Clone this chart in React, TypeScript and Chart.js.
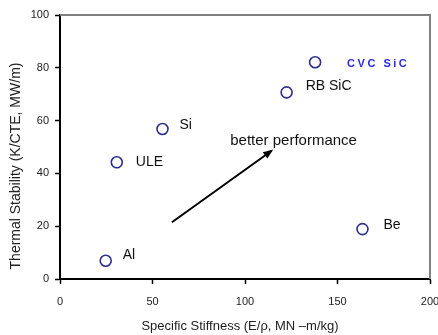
import React, { useEffect, useRef } from "react";
import { Chart, registerables } from "chart.js";

Chart.register(...registerables);

// ---- data ----
const materials = ["Al", "ULE", "Si", "RB SiC", "CVC SiC", "Be"];
const stiffness = [24.7, 30.7, 55.4, 122.5, 137.9, 163.5];
const stability = [6.9, 44.2, 56.8, 70.7, 82.1, 18.9];
const arrowX = [60.5, 114.4];
const arrowY = [21.5, 48.6];
const arrowText = "better performance";
const arrowTextAt = [92, 52.3];
const xTicks = [0, 50, 100, 150, 200];
const yTicks = [0, 20, 40, 60, 80, 100];
const xTitle = "Specific Stiffness (E/\u03c1, MN \u2013m/kg)";
const yTitle = "Thermal Stability (K/CTE, MW/m)";

// label placement (pixel offsets from the marker)
const LABEL_STYLE: Record<string, { dx: number; dy: number; color: string; font: string; spacing: string }> = {
  "Al": { dx: 17, dy: -6, color: "#111", font: "14px 'Liberation Sans', Arial", spacing: "0px" },
  "ULE": { dx: 19, dy: 0, color: "#111", font: "14px 'Liberation Sans', Arial", spacing: "0px" },
  "Si": { dx: 17, dy: -4, color: "#111", font: "14px 'Liberation Sans', Arial", spacing: "0px" },
  "RB SiC": { dx: 19, dy: -6, color: "#111", font: "14px 'Liberation Sans', Arial", spacing: "0px" },
  "CVC SiC": { dx: 32, dy: 2, color: "#2a2ae0", font: "bold 11px 'Liberation Sans', Arial", spacing: "2.5px" },
  "Be": { dx: 21, dy: -4, color: "#111", font: "14px 'Liberation Sans', Arial", spacing: "0px" },
};

const FONT = "'Liberation Sans', Arial, sans-serif";

const annotatePlugin = {
  id: "annotate",
  afterDatasetsDraw(chart: any) {
    const { ctx, chartArea, scales } = chart;
    const xs = scales.x;
    const ys = scales.y;
    ctx.save();
    // top and right frame in gray
    ctx.strokeStyle = "#808080";
    ctx.lineWidth = 2;
    ctx.beginPath();
    ctx.moveTo(chartArea.left, chartArea.top);
    ctx.lineTo(chartArea.right, chartArea.top);
    ctx.lineTo(chartArea.right, chartArea.bottom);
    ctx.stroke();

    // point labels
    ctx.textBaseline = "middle";
    ctx.textAlign = "left";
    materials.forEach((m, i) => {
      const st = LABEL_STYLE[m];
      const px = xs.getPixelForValue(stiffness[i]);
      const py = ys.getPixelForValue(stability[i]);
      ctx.font = st.font;
      ctx.fillStyle = st.color;
      (ctx as any).letterSpacing = st.spacing;
      ctx.fillText(m, px + st.dx, py + st.dy);
    });
    (ctx as any).letterSpacing = "0px";

    // arrow head
    const x0 = xs.getPixelForValue(arrowX[0]);
    const y0 = ys.getPixelForValue(arrowY[0]);
    const x1 = xs.getPixelForValue(arrowX[1]);
    const y1 = ys.getPixelForValue(arrowY[1]);
    const ang = Math.atan2(y1 - y0, x1 - x0);
    const len = 9;
    const w = 0.45;
    ctx.fillStyle = "#000";
    ctx.beginPath();
    ctx.moveTo(x1 + 2 * Math.cos(ang), y1 + 2 * Math.sin(ang));
    ctx.lineTo(x1 - len * Math.cos(ang - w), y1 - len * Math.sin(ang - w));
    ctx.lineTo(x1 - len * Math.cos(ang + w), y1 - len * Math.sin(ang + w));
    ctx.closePath();
    ctx.fill();

    // arrow text
    ctx.font = `15px ${FONT}`;
    ctx.fillStyle = "#111";
    ctx.fillText(arrowText, xs.getPixelForValue(arrowTextAt[0]), ys.getPixelForValue(arrowTextAt[1]));

    // axis titles
    ctx.font = `13px ${FONT}`;
    ctx.fillStyle = "#222";
    ctx.textAlign = "center";
    ctx.fillText(xTitle, (chartArea.left + chartArea.right) / 2 - 5, chartArea.bottom + 47);
    ctx.translate(16, (chartArea.top + chartArea.bottom) / 2 + 19);
    ctx.rotate(-Math.PI / 2);
    ctx.font = `14px ${FONT}`;
    ctx.fillText(yTitle, 0, 0);
    ctx.restore();
  },
};

export default function App() {
  const ref = useRef<HTMLCanvasElement>(null);
  useEffect(() => {
    if (!ref.current) return;
    const chart = new Chart(ref.current, {
      type: "scatter",
      data: {
        datasets: [
          {
            label: "materials",
            data: materials.map((_, i) => ({ x: stiffness[i], y: stability[i] })),
            pointStyle: "circle",
            pointRadius: 5.5,
            pointBorderWidth: 1.6,
            borderColor: "#2c2f8c",
            backgroundColor: "rgba(0,0,0,0)",
            pointBackgroundColor: "rgba(0,0,0,0)",
          },
          {
            type: "line",
            label: "arrow",
            data: arrowX.map((x, i) => ({ x, y: arrowY[i] })),
            showLine: true,
            borderColor: "#000",
            borderWidth: 2,
            pointRadius: 0,
            fill: false,
          } as any,
        ],
      },
      options: {
        animation: false,
        responsive: true,
        maintainAspectRatio: false,
        layout: { padding: { top: 15, right: 8, left: 0, bottom: 0 } },
        plugins: { legend: { display: false }, tooltip: { enabled: false }, title: { display: false } },
        scales: {
          x: {
            type: "linear",
            min: 0,
            max: 200,
            afterBuildTicks: (s: any) => {
              s.ticks = xTicks.map((v) => ({ value: v }));
            },
            afterFit: (s: any) => {
              s.height = 56;
              s.paddingLeft = 0;
              s.paddingRight = 0;
            },
            ticks: { color: "#222", font: { family: FONT, size: 11 }, padding: 11 },
            grid: { drawOnChartArea: false, drawTicks: true, tickLength: 5, tickColor: "#000", tickWidth: 1.5 },
            border: { display: true, color: "#000", width: 2 },
          },
          y: {
            type: "linear",
            min: 0,
            max: 100,
            afterBuildTicks: (s: any) => {
              s.ticks = yTicks.map((v) => ({ value: v }));
            },
            afterFit: (s: any) => {
              s.width = 60;
              s.paddingTop = 0;
              s.paddingBottom = 0;
            },
            ticks: { color: "#222", font: { family: FONT, size: 11 }, padding: 6 },
            grid: { drawOnChartArea: false, drawTicks: true, tickLength: 5, tickColor: "#000", tickWidth: 1.5 },
            border: { display: true, color: "#000", width: 2 },
          },
        },
      },
      plugins: [annotatePlugin],
    });
    return () => chart.destroy();
  }, []);
  return (
    <div style={{ position: "fixed", left: 0, top: 0, width: 438, height: 335, background: "#fff" }}>
      <canvas ref={ref} />
    </div>
  );
}
